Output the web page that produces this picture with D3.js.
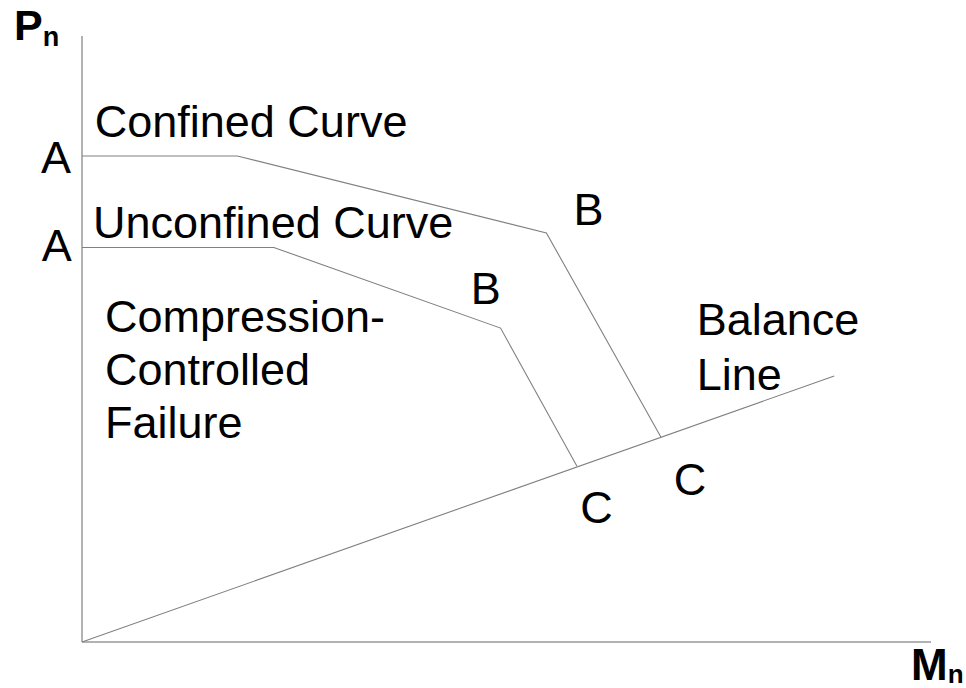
<!DOCTYPE html>
<html>
<head>
<meta charset="utf-8">
<script src="https://cdnjs.cloudflare.com/ajax/libs/d3/7.8.5/d3.min.js"></script>
<style>
  body { margin: 0; background: #fff; }
  text { font-family: "Liberation Sans", Arial, sans-serif; fill: #000; }
</style>
</head>
<body>
<div id="chart"></div>
<script>
// interaction diagram, arbitrary units (0-100 on both axes)
var confined   = [[0, 80.2], [18.3, 80.2], [54.7, 67.5], [68.2, 33.8]];
var unconfined = [[0, 65.1], [22.6, 65.1], [49.3, 51.8], [58.3, 29.0]];
var balance    = [[0, 0], [88.6, 43.9]];

var labels = [
  {t: "Confined Curve",   x: 1.5,  y: 83.3},
  {t: "Unconfined Curve", x: 1.3,  y: 66.6},
  {t: "B", x: 57.9, y: 68.8},
  {t: "B", x: 45.8, y: 55.7},
  {t: "C", x: 58.7, y: 19.7},
  {t: "C", x: 69.7, y: 24.3}
];
var aLabels = [{t: "A", x: -1.3, y: 77.4}, {t: "A", x: -1.2, y: 62.8}];
var compLines = ["Compression-", "Controlled", "Failure"];
var balLines = ["Balance", "Line"];

var width = 966, height = 688;

var svg = d3.select("#chart")
    .append("svg")
    .attr("width", width)
    .attr("height", height);

var x = d3.scaleLinear().domain([0, 100]).range([82, 931]);
var y = d3.scaleLinear().domain([0, 100]).range([642, 36]);

// axes
svg.append("line")
    .attr("x1", x(0)).attr("y1", y(0))
    .attr("x2", x(0)).attr("y2", y(100))
    .attr("stroke", "#999").attr("stroke-width", 1.5);
svg.append("line")
    .attr("x1", x(0)).attr("y1", y(0))
    .attr("x2", x(100)).attr("y2", y(0))
    .attr("stroke", "#999").attr("stroke-width", 1.5);

var line = d3.line()
    .x(function (d) { return x(d[0]); })
    .y(function (d) { return y(d[1]); });

[confined, unconfined, balance].forEach(function (s) {
  svg.append("path")
      .datum(s)
      .attr("d", line)
      .attr("fill", "none")
      .attr("stroke", "#808080")
      .attr("stroke-width", 1.1);
});

svg.selectAll("text.lab")
    .data(labels)
    .enter()
    .append("text")
    .attr("class", "lab")
    .attr("x", function (d) { return x(d.x); })
    .attr("y", function (d) { return y(d.y); })
    .style("font-size", "45px")
    .text(function (d) { return d.t; });

svg.selectAll("text.a")
    .data(aLabels)
    .enter()
    .append("text")
    .attr("class", "a")
    .attr("text-anchor", "end")
    .attr("x", function (d) { return x(d.x); })
    .attr("y", function (d) { return y(d.y); })
    .style("font-size", "45px")
    .text(function (d) { return d.t; });

var comp = svg.append("text")
    .attr("x", x(2.7))
    .attr("y", y(51.2))
    .style("font-size", "45px");
comp.selectAll("tspan")
    .data(compLines)
    .enter()
    .append("tspan")
    .attr("x", x(2.7))
    .attr("dy", function (d, i) { return i === 0 ? 0 : 53; })
    .text(function (d) { return d; });

var bal = svg.append("text")
    .attr("x", x(72.4))
    .attr("y", y(50.7))
    .style("font-size", "45px");
bal.selectAll("tspan")
    .data(balLines)
    .enter()
    .append("tspan")
    .attr("x", x(72.4))
    .attr("dy", function (d, i) { return i === 0 ? 0 : 55; })
    .text(function (d) { return d; });

// axis titles
var pn = svg.append("text")
    .attr("x", x(0) - 68)
    .attr("y", y(100) + 4)
    .style("font-size", "43px")
    .style("font-weight", "bold");
pn.append("tspan").text("P");
pn.append("tspan").attr("dy", 6).style("font-size", "27px").text("n");

var mn = svg.append("text")
    .attr("x", x(100) - 20)
    .attr("y", y(0) + 38)
    .style("font-size", "44px")
    .style("font-weight", "bold");
mn.append("tspan").text("M");
mn.append("tspan").attr("dy", 3).style("font-size", "26px").text("n");
</script>
</body>
</html>
